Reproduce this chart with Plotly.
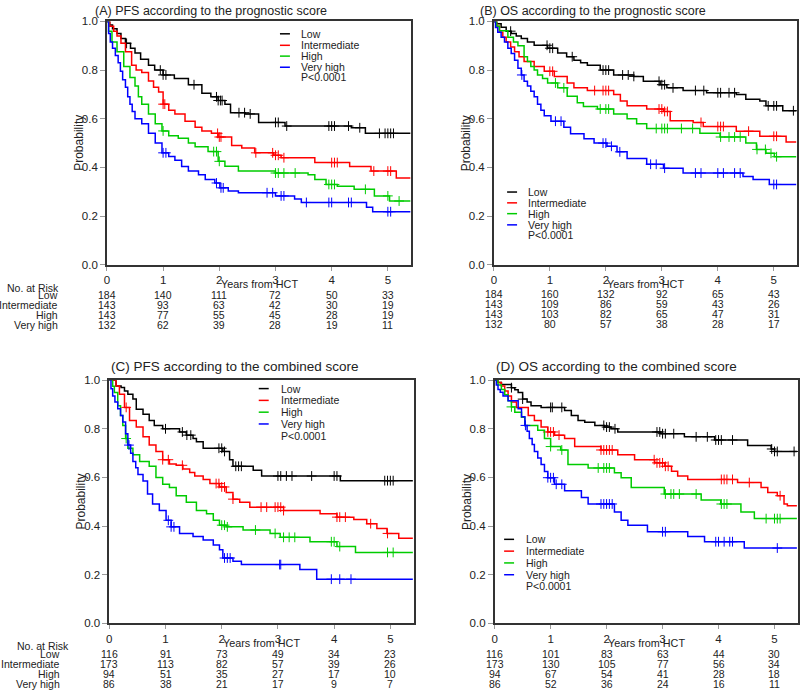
import plotly.graph_objects as go

W, H = 800, 696
FONT = "Liberation Sans, Arial, sans-serif"
GROUPS = ["Low", "Intermediate", "High", "Very high"]
COLORS = ["#000000", "#FF0000", "#00CC00", "#0000FF"]
X_MAX = 5.42
YEAR_TICKS = [0, 1, 2, 3, 4, 5]
PROB_TICKS = [0.0, 0.2, 0.4, 0.6, 0.8, 1.0]
FOLLOWUP_END = 5.4
P_TEXT = "P<0.0001"

# ---------------- Panel A: PFS, prognostic score ----------------
A_low_t = [0.05, 0.1, 0.18, 0.25, 0.33, 0.42, 0.5, 0.6, 0.74, 0.85, 1.0, 1.2, 1.45, 1.69, 1.85, 1.98, 2.1, 2.2, 2.46, 2.7, 3.17, 4.35, 4.6]
A_low_s = [0.985, 0.97, 0.95, 0.93, 0.91, 0.89, 0.87, 0.845, 0.82, 0.80, 0.78, 0.765, 0.74, 0.705, 0.69, 0.675, 0.66, 0.625, 0.62, 0.585, 0.57, 0.563, 0.54]
A_low_c = [0.35, 0.95, 1.0, 1.05, 1.55, 1.95, 1.98, 2.02, 2.05, 2.35, 2.45, 2.55, 3.0, 3.05, 3.2, 3.95, 4.0, 4.05, 4.3, 4.5, 4.85, 4.95, 5.0, 5.05, 5.1]
A_int_t = [0.05, 0.12, 0.18, 0.25, 0.33, 0.44, 0.52, 0.62, 0.74, 0.83, 0.92, 1.0, 1.1, 1.21, 1.39, 1.57, 1.69, 1.86, 1.98, 2.22, 2.4, 2.63, 2.97, 3.1, 3.7, 4.32, 4.7, 5.15]
A_int_s = [0.98, 0.96, 0.94, 0.91, 0.875, 0.82, 0.80, 0.79, 0.755, 0.73, 0.71, 0.66, 0.635, 0.62, 0.59, 0.565, 0.55, 0.54, 0.525, 0.49, 0.48, 0.46, 0.45, 0.44, 0.42, 0.404, 0.385, 0.357]
A_int_c = [1.0, 1.03, 1.97, 2.0, 2.03, 2.65, 2.95, 3.0, 3.05, 3.15, 4.0, 4.05, 4.1, 4.75, 5.0, 5.05]
A_high_t = [0.03, 0.09, 0.18, 0.3, 0.41, 0.5, 0.56, 0.62, 0.74, 0.86, 0.98, 1.1, 1.27, 1.45, 1.57, 1.8, 1.98, 2.1, 2.34, 3.0, 3.58, 3.7, 3.9, 4.1, 4.4, 4.76, 5.03]
A_high_s = [0.96, 0.915, 0.875, 0.815, 0.77, 0.735, 0.69, 0.66, 0.62, 0.58, 0.55, 0.53, 0.52, 0.50, 0.485, 0.465, 0.425, 0.405, 0.385, 0.377, 0.37, 0.35, 0.33, 0.323, 0.31, 0.283, 0.262]
A_high_c = [1.0, 1.9, 1.95, 2.0, 3.0, 3.05, 3.15, 3.35, 3.95, 4.0, 4.05, 4.6, 5.0, 5.2]
A_vh_t = [0.03, 0.06, 0.1, 0.15, 0.2, 0.24, 0.28, 0.33, 0.37, 0.41, 0.45, 0.5, 0.62, 0.74, 0.86, 0.98, 1.1, 1.21, 1.33, 1.45, 1.63, 1.75, 1.92, 2.01, 2.16, 2.34, 3.0, 3.34, 3.46, 4.62, 4.73]
A_vh_s = [0.95, 0.915, 0.89, 0.86, 0.83, 0.795, 0.76, 0.73, 0.69, 0.66, 0.63, 0.60, 0.58, 0.54, 0.50, 0.46, 0.445, 0.43, 0.404, 0.385, 0.37, 0.35, 0.336, 0.316, 0.303, 0.296, 0.283, 0.27, 0.256, 0.236, 0.218]
A_vh_c = [1.0, 1.05, 1.95, 2.03, 2.07, 2.85, 2.95, 3.1, 3.15, 3.55, 3.95, 4.0, 4.3, 4.35, 5.0, 5.05]
A_risk = [[184, 140, 111, 72, 50, 33], [143, 93, 63, 42, 30, 19], [143, 77, 55, 45, 28, 19], [132, 62, 39, 28, 19, 11]]

# ---------------- Panel B: OS, prognostic score ----------------
B_low_t = [0.05, 0.13, 0.22, 0.31, 0.4, 0.49, 0.6, 0.72, 0.96, 1.14, 1.3, 1.43, 1.55, 1.67, 1.9, 2.14, 2.5, 2.67, 2.97, 3.09, 3.38, 3.8, 4.33, 4.5, 4.75, 4.86, 5.16]
B_low_s = [0.99, 0.976, 0.96, 0.95, 0.94, 0.93, 0.915, 0.902, 0.89, 0.87, 0.855, 0.84, 0.83, 0.82, 0.80, 0.78, 0.774, 0.754, 0.74, 0.727, 0.716, 0.707, 0.70, 0.68, 0.673, 0.653, 0.633]
B_low_c = [0.3, 0.95, 1.0, 1.05, 1.4, 1.95, 2.0, 2.05, 2.3, 2.4, 2.5, 2.95, 3.0, 3.05, 3.2, 3.6, 3.75, 4.0, 4.05, 4.2, 4.3, 4.9, 5.0, 5.05, 5.35]
B_int_t = [0.05, 0.1, 0.16, 0.22, 0.3, 0.37, 0.45, 0.54, 0.72, 0.9, 1.08, 1.31, 1.43, 1.67, 2.14, 2.26, 2.38, 2.73, 3.03, 3.15, 3.56, 3.74, 4.33, 4.75, 5.22]
B_int_s = [0.98, 0.956, 0.935, 0.915, 0.895, 0.875, 0.855, 0.835, 0.815, 0.795, 0.774, 0.747, 0.727, 0.716, 0.70, 0.673, 0.653, 0.64, 0.63, 0.592, 0.585, 0.568, 0.549, 0.528, 0.505]
B_int_c = [1.0, 1.05, 1.8, 1.95, 2.0, 2.05, 2.95, 3.0, 3.05, 3.1, 3.7, 4.0, 4.05, 4.1, 4.55, 5.0, 5.05]
B_high_t = [0.05, 0.1, 0.25, 0.35, 0.43, 0.54, 0.6, 0.66, 0.72, 0.78, 0.87, 0.96, 1.14, 1.31, 1.49, 1.6, 1.85, 2.14, 2.38, 2.55, 2.73, 3.68, 4.04, 4.5, 4.69, 4.86, 5.01]
B_high_s = [0.98, 0.962, 0.935, 0.915, 0.9, 0.855, 0.835, 0.815, 0.80, 0.78, 0.765, 0.747, 0.727, 0.693, 0.666, 0.65, 0.64, 0.62, 0.60, 0.58, 0.56, 0.54, 0.525, 0.50, 0.474, 0.458, 0.444]
B_high_c = [1.1, 1.25, 1.9, 2.0, 2.05, 2.9, 3.0, 3.05, 3.1, 3.35, 3.55, 4.05, 4.2, 4.3, 4.4, 4.7, 4.85, 4.95, 5.05]
B_vh_t = [0.03, 0.07, 0.13, 0.19, 0.25, 0.31, 0.37, 0.43, 0.49, 0.54, 0.6, 0.66, 0.72, 0.78, 0.84, 0.9, 1.02, 1.25, 1.37, 1.61, 1.79, 2.02, 2.2, 2.38, 2.73, 3.03, 3.38, 4.45, 4.63, 4.92]
B_vh_s = [0.975, 0.956, 0.935, 0.915, 0.89, 0.868, 0.84, 0.808, 0.78, 0.754, 0.735, 0.713, 0.69, 0.66, 0.635, 0.612, 0.59, 0.565, 0.538, 0.518, 0.50, 0.487, 0.464, 0.437, 0.413, 0.397, 0.377, 0.363, 0.35, 0.33]
B_vh_c = [0.5, 1.1, 1.2, 1.95, 2.0, 2.1, 2.25, 2.8, 2.9, 3.05, 3.6, 3.7, 4.0, 4.1, 4.3, 4.4, 5.0, 5.05]
B_risk = [[184, 160, 132, 92, 65, 43], [143, 109, 86, 59, 43, 26], [143, 103, 82, 65, 47, 31], [132, 80, 57, 38, 28, 17]]

# ---------------- Panel C: PFS, combined score ----------------
C_low_t = [0.12, 0.21, 0.27, 0.33, 0.42, 0.48, 0.6, 0.71, 0.8, 0.95, 1.25, 1.37, 1.49, 1.55, 1.67, 2.02, 2.14, 2.2, 2.56, 2.71, 4.11]
C_low_s = [0.976, 0.97, 0.955, 0.942, 0.922, 0.88, 0.86, 0.834, 0.814, 0.80, 0.787, 0.774, 0.76, 0.747, 0.72, 0.707, 0.673, 0.646, 0.63, 0.606, 0.587]
C_low_c = [1.0, 1.3, 1.38, 1.45, 1.95, 2.0, 2.05, 2.25, 2.3, 2.35, 3.0, 3.05, 3.15, 3.25, 3.6, 4.0, 4.05, 4.9, 4.95, 5.0, 5.05]
C_int_t = [0.12, 0.18, 0.27, 0.36, 0.48, 0.6, 0.71, 0.83, 0.95, 1.07, 1.19, 1.31, 1.43, 1.52, 1.67, 1.79, 1.96, 2.08, 2.2, 2.32, 2.5, 3.1, 3.75, 4.05, 4.35, 4.58, 4.76, 4.94, 5.15]
C_int_s = [0.976, 0.942, 0.888, 0.834, 0.807, 0.767, 0.733, 0.707, 0.673, 0.655, 0.65, 0.635, 0.62, 0.606, 0.592, 0.575, 0.561, 0.538, 0.511, 0.498, 0.478, 0.464, 0.451, 0.437, 0.427, 0.41, 0.39, 0.37, 0.35]
C_int_c = [0.3, 0.95, 1.05, 1.3, 1.9, 1.95, 2.0, 2.05, 2.2, 2.7, 2.8, 2.95, 3.0, 3.05, 3.1, 4.05, 4.1, 4.2, 4.65, 4.95]
C_high_t = [0.06, 0.09, 0.15, 0.2, 0.24, 0.29, 0.33, 0.42, 0.54, 0.71, 0.83, 0.95, 1.07, 1.19, 1.37, 1.55, 1.73, 1.85, 1.96, 2.08, 2.38, 2.86, 3.04, 3.57, 4.05, 4.38]
C_high_s = [0.975, 0.949, 0.895, 0.855, 0.814, 0.76, 0.72, 0.693, 0.666, 0.646, 0.60, 0.572, 0.559, 0.525, 0.498, 0.464, 0.451, 0.424, 0.404, 0.397, 0.384, 0.37, 0.354, 0.336, 0.316, 0.292]
C_high_c = [0.3, 2.0, 2.05, 2.1, 2.6, 2.95, 3.1, 3.2, 3.3, 3.95, 4.0, 4.1, 4.95, 5.05]
C_vh_t = [0.03, 0.06, 0.1, 0.15, 0.2, 0.24, 0.29, 0.33, 0.38, 0.42, 0.47, 0.51, 0.6, 0.68, 0.77, 0.89, 1.01, 1.1, 1.25, 1.49, 1.67, 1.85, 1.96, 2.02, 2.2, 2.35, 3.39, 3.69]
C_vh_s = [0.965, 0.935, 0.91, 0.882, 0.855, 0.828, 0.78, 0.733, 0.70, 0.666, 0.64, 0.612, 0.585, 0.532, 0.491, 0.464, 0.424, 0.397, 0.37, 0.357, 0.343, 0.323, 0.303, 0.269, 0.256, 0.242, 0.222, 0.182]
C_vh_c = [0.35, 1.05, 1.1, 1.15, 2.05, 2.1, 2.15, 3.03, 3.05, 3.95, 4.1, 4.3]
C_risk = [[116, 91, 73, 49, 34, 23], [173, 113, 82, 57, 39, 26], [94, 51, 35, 27, 17, 10], [86, 38, 21, 17, 9, 7]]

# ---------------- Panel D: OS, combined score ----------------
D_low_t = [0.06, 0.12, 0.3, 0.36, 0.42, 0.5, 0.58, 0.65, 0.83, 1.25, 1.37, 1.49, 1.61, 1.79, 1.96, 2.08, 2.2, 2.97, 3.39, 3.93, 4.52, 4.94, 5.0]
D_low_s = [0.99, 0.982, 0.969, 0.96, 0.949, 0.922, 0.91, 0.895, 0.888, 0.875, 0.855, 0.834, 0.827, 0.814, 0.807, 0.80, 0.787, 0.78, 0.767, 0.754, 0.731, 0.717, 0.707]
D_low_c = [0.3, 0.5, 1.0, 1.03, 1.2, 1.95, 2.0, 2.05, 2.15, 2.9, 2.95, 3.0, 3.05, 3.2, 3.6, 3.8, 3.95, 4.0, 4.05, 4.25, 4.95, 5.0, 5.05, 5.35]
D_int_t = [0.06, 0.12, 0.18, 0.24, 0.3, 0.39, 0.6, 0.71, 0.83, 0.95, 1.07, 1.25, 1.43, 1.9, 2.2, 2.5, 2.86, 3.04, 3.16, 3.27, 3.45, 4.34, 4.76, 4.88, 5.05, 5.17, 5.23]
D_int_s = [0.99, 0.976, 0.955, 0.935, 0.91, 0.888, 0.855, 0.834, 0.807, 0.787, 0.774, 0.76, 0.727, 0.713, 0.693, 0.673, 0.66, 0.646, 0.626, 0.606, 0.592, 0.579, 0.559, 0.538, 0.525, 0.491, 0.484]
D_int_c = [0.95, 1.0, 1.05, 1.15, 1.9, 1.95, 2.0, 2.05, 2.1, 2.85, 2.9, 2.95, 3.0, 3.05, 3.1, 4.05, 4.1, 4.15, 4.25, 4.55, 5.1]
D_high_t = [0.06, 0.12, 0.18, 0.24, 0.3, 0.36, 0.48, 0.54, 0.77, 0.89, 1.0, 1.18, 1.31, 1.67, 2.14, 2.26, 2.44, 3.03, 3.69, 4.04, 4.4, 4.64]
D_high_s = [0.98, 0.962, 0.94, 0.915, 0.89, 0.868, 0.848, 0.814, 0.794, 0.76, 0.727, 0.713, 0.653, 0.639, 0.619, 0.599, 0.559, 0.532, 0.507, 0.491, 0.458, 0.431]
D_high_c = [0.3, 1.0, 1.2, 1.85, 1.95, 2.0, 2.05, 3.05, 3.15, 3.2, 3.3, 3.6, 4.05, 4.1, 4.15, 4.85, 5.0, 5.05, 5.1]
D_vh_t = [0.03, 0.06, 0.1, 0.15, 0.24, 0.42, 0.48, 0.54, 0.58, 0.62, 0.67, 0.71, 0.77, 0.83, 0.89, 0.95, 1.07, 1.25, 1.55, 1.67, 2.14, 2.26, 2.38, 2.73, 3.45, 3.75, 4.46]
D_vh_s = [0.98, 0.962, 0.95, 0.935, 0.915, 0.882, 0.85, 0.814, 0.79, 0.76, 0.735, 0.707, 0.68, 0.653, 0.625, 0.599, 0.572, 0.545, 0.518, 0.491, 0.458, 0.424, 0.404, 0.377, 0.357, 0.336, 0.31]
D_vh_c = [0.55, 0.95, 1.0, 1.05, 1.1, 1.2, 1.9, 1.95, 2.0, 2.05, 2.1, 3.0, 3.05, 3.95, 4.0, 4.1, 4.2, 4.25, 5.05]
D_risk = [[116, 101, 83, 63, 44, 30], [173, 130, 105, 77, 56, 34], [94, 67, 54, 41, 28, 18], [86, 52, 36, 24, 16, 11]]

TITLES = ["(A) PFS according to the prognostic score", "(B) OS according to the prognostic score",
          "(C) PFS according to the combined score", "(D) OS according to the combined score"]

# ---------------- layout geometry (pixels) ----------------
def px(x):
    return x / W

def py(y):
    return 1 - y / H

PANELS = [
    dict(curves=[(A_low_t, A_low_s, A_low_c), (A_int_t, A_int_s, A_int_c), (A_high_t, A_high_s, A_high_c), (A_vh_t, A_vh_s, A_vh_c)],
         risk=A_risk, x0=104.3, x1=410.0, y0=15.7, y1=263.3, title_x=90, title_y=5.5, title_size=12.5,
         ylab_x=76, leg_line=(278, 288), leg_text=297, leg_rows=[28.3, 40, 51, 62.3, 72.7],
         labels=True, lab_right=57.5, norisk=(2, 286.7), tick_y=275.7, xlab_y=283.3, rows=[294, 304.3, 314.3, 324.3]),
    dict(curves=[(B_low_t, B_low_s, B_low_c), (B_int_t, B_int_s, B_int_c), (B_high_t, B_high_s, B_high_c), (B_vh_t, B_vh_s, B_vh_c)],
         risk=B_risk, x0=492.7, x1=797.3, y0=15.7, y1=263.3, title_x=476.7, title_y=5.5, title_size=12.5,
         ylab_x=465, leg_line=(506, 516), leg_text=525, leg_rows=[189.3, 200.3, 211.3, 222.7, 233.3],
         labels=False, tick_y=275.7, xlab_y=283.3, rows=[293.3, 303.7, 313.7, 323.7]),
    dict(curves=[(C_low_t, C_low_s, C_low_c), (C_int_t, C_int_s, C_int_c), (C_high_t, C_high_s, C_high_c), (C_vh_t, C_vh_s, C_vh_c)],
         risk=C_risk, x0=106.7, x1=412.5, y0=380.7, y1=628.3, title_x=106.7, title_y=366.7, title_size=13.5,
         ylab_x=78, leg_line=(256.7, 266.7), leg_text=276.7, leg_rows=[389.3, 401.3, 413.3, 425.3, 437.3],
         labels=True, lab_right=59.5, norisk=(12, 651.7), tick_y=640.7, xlab_y=647.7, rows=[659.3, 669.7, 679.7, 689.7]),
    dict(curves=[(D_low_t, D_low_s, D_low_c), (D_int_t, D_int_s, D_int_c), (D_high_t, D_high_s, D_high_c), (D_vh_t, D_vh_s, D_vh_c)],
         risk=D_risk, x0=493.5, x1=798.0, y0=380.7, y1=628.3, title_x=493.3, title_y=366.7, title_size=13.5,
         ylab_x=466, leg_line=(503, 513), leg_text=523.3, leg_rows=[542.7, 554.7, 566.7, 578.7, 590],
         labels=False, tick_y=640.7, xlab_y=647.7, rows=[659.3, 669.7, 679.7, 689.7]),
]


def surv_at(ts, ss, t):
    s = 1.0
    for ti, si in zip(ts, ss):
        if ti <= t:
            s = si
    return s


fig = go.Figure()
annotations = []
shapes = []
layout_axes = {}

for i, p in enumerate(PANELS, start=1):
    xa = "x" if i == 1 else f"x{i}"
    ya = "y" if i == 1 else f"y{i}"
    for g, (ts, ss, cs) in enumerate(p["curves"]):
        xs = [0.0] + list(ts) + [FOLLOWUP_END]
        ys = [1.0] + list(ss) + [ss[-1]]
        fig.add_trace(go.Scatter(x=xs, y=ys, mode="lines", line=dict(color=COLORS[g], width=1.5, shape="hv"),
                                 xaxis=xa, yaxis=ya, showlegend=False, hoverinfo="skip"))
        cy = [surv_at(ts, ss, c) for c in cs]
        fig.add_trace(go.Scatter(x=cs, y=cy, mode="markers",
                                 marker=dict(symbol="cross-thin", size=7, line=dict(width=1, color=COLORS[g]), color=COLORS[g]),
                                 xaxis=xa, yaxis=ya, showlegend=False, hoverinfo="skip"))

    axis_common = dict(showline=True, linecolor="#333333", linewidth=1.6, mirror=True, showgrid=False, zeroline=False,
                       ticks="outside", tickcolor="#9a9a9a", tickwidth=1, tickfont=dict(family=FONT, size=11.5, color="#222222"))
    layout_axes["xaxis" if i == 1 else f"xaxis{i}"] = dict(
        domain=[px(p["x0"]), px(p["x1"])], range=[0, X_MAX], tickvals=YEAR_TICKS, ticklen=4,
        anchor=ya, **axis_common)
    layout_axes["yaxis" if i == 1 else f"yaxis{i}"] = dict(
        domain=[py(p["y1"]), py(p["y0"])], range=[0, 1], tickvals=PROB_TICKS,
        ticktext=[f"{v:.1f}" for v in PROB_TICKS], ticklen=5, anchor=xa, **axis_common)

    # title
    annotations.append(dict(text=TITLES[i - 1], xref="paper", yref="paper", x=px(p["title_x"]), y=py(p["title_y"]),
                            xanchor="left", yanchor="middle", showarrow=False,
                            font=dict(family=FONT, size=p["title_size"], color="#222222")))
    # y label
    annotations.append(dict(text="Probability", xref="paper", yref="paper", x=px(p["ylab_x"]),
                            y=py((p["y0"] + p["y1"]) / 2), textangle=-90, xanchor="center", yanchor="middle",
                            showarrow=False, font=dict(family=FONT, size=12, color="#222222")))
    # x label
    annotations.append(dict(text="Years from HCT", xref=f"{xa} domain", yref="paper", x=0.5, y=py(p["xlab_y"]),
                            xanchor="center", yanchor="middle", showarrow=False,
                            font=dict(family=FONT, size=10.8, color="#222222")))
    # legend
    for g, name in enumerate(GROUPS):
        yy = py(p["leg_rows"][g])
        shapes.append(dict(type="line", xref="paper", yref="paper", x0=px(p["leg_line"][0]), x1=px(p["leg_line"][1]),
                           y0=yy, y1=yy, line=dict(color=COLORS[g], width=1.5)))
        annotations.append(dict(text=name, xref="paper", yref="paper", x=px(p["leg_text"]), y=yy,
                                xanchor="left", yanchor="middle", showarrow=False,
                                font=dict(family=FONT, size=10.5, color="#222222")))
    annotations.append(dict(text=P_TEXT, xref="paper", yref="paper", x=px(p["leg_text"]), y=py(p["leg_rows"][4]),
                            xanchor="left", yanchor="middle", showarrow=False,
                            font=dict(family=FONT, size=10.5, color="#222222")))
    # risk table
    if p["labels"]:
        annotations.append(dict(text="No. at Risk", xref="paper", yref="paper", x=px(p["norisk"][0]), y=py(p["norisk"][1]),
                                xanchor="left", yanchor="middle", showarrow=False,
                                font=dict(family=FONT, size=10.5, color="#222222")))
        for g, name in enumerate(GROUPS):
            annotations.append(dict(text=name, xref="paper", yref="paper", x=px(p["lab_right"]), y=py(p["rows"][g]),
                                    xanchor="right", yanchor="middle", showarrow=False,
                                    font=dict(family=FONT, size=10.5, color="#222222")))
    for g in range(4):
        for k, yr in enumerate(YEAR_TICKS):
            annotations.append(dict(text=str(p["risk"][g][k]), xref=xa, yref="paper", x=yr, y=py(p["rows"][g]),
                                    xanchor="center", yanchor="middle", showarrow=False,
                                    font=dict(family=FONT, size=10.5, color="#222222")))

fig.update_layout(width=W, height=H, margin=dict(l=0, r=0, t=0, b=0), paper_bgcolor="white", plot_bgcolor="white",
                  showlegend=False, annotations=annotations, shapes=shapes, font=dict(family=FONT), **layout_axes)

fig.write_html("out.html", config={"displayModeBar": False},
               post_script="document.body.style.margin='0';document.body.style.padding='0';")
